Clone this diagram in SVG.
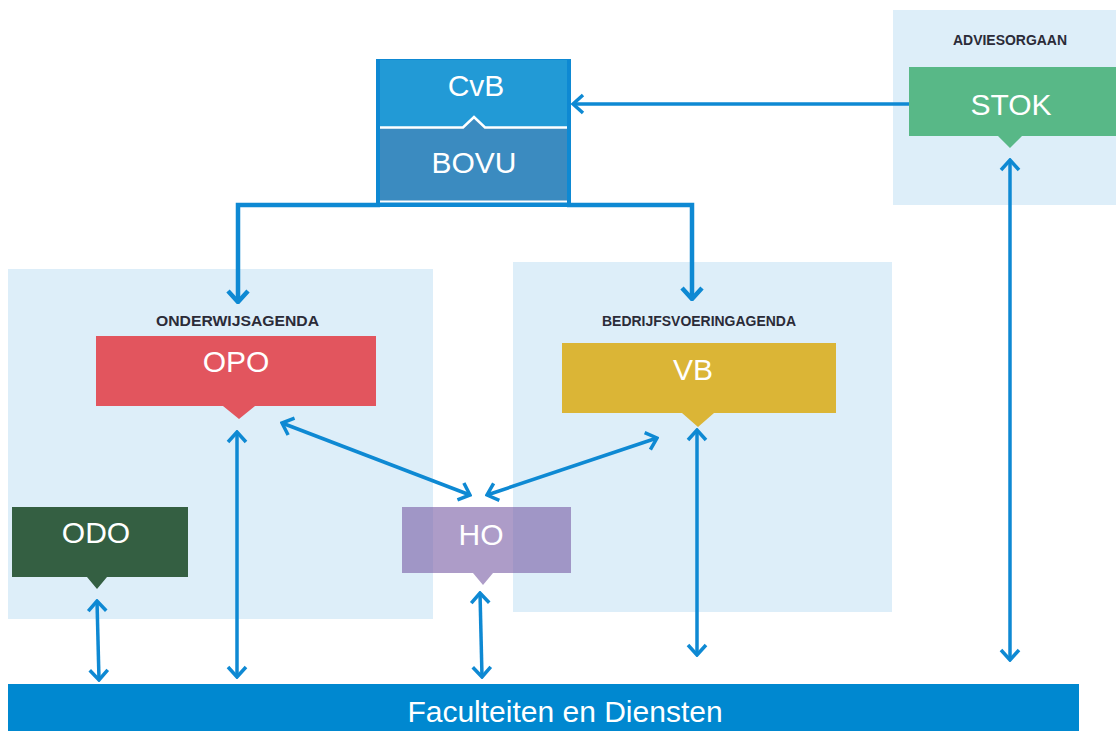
<svg xmlns="http://www.w3.org/2000/svg" width="1116" height="731" viewBox="0 0 1116 731">
  <style>
    .panel { fill: #DDEEF9; }
    .title { font-family: "Liberation Sans", Arial, sans-serif; font-weight: bold; font-size: 14.5px; fill: #2B2B38; text-anchor: middle; }
    .lbl { font-family: "Liberation Sans", Arial, sans-serif; font-size: 30px; fill: #FFFFFF; text-anchor: middle; }
    .conn { fill: none; stroke: #0E89D3; stroke-width: 3.5; }
    .thick { stroke-width: 4.5; }
  </style>
  <defs>
    <marker id="ah" markerUnits="userSpaceOnUse" viewBox="-15 -13 17 26" refX="0" refY="0" markerWidth="17" markerHeight="26" orient="auto-start-reverse">
      <path d="M-10,-9 L0,0 L-10,9" fill="none" stroke="#0E89D3" stroke-width="3.5"/>
    </marker>
    <marker id="ahb" markerUnits="userSpaceOnUse" viewBox="-15 -14 17 28" refX="0" refY="0" markerWidth="17" markerHeight="28" orient="auto-start-reverse">
      <path d="M-11,-10 L0,0 L-11,10" fill="none" stroke="#0E89D3" stroke-width="4.5"/>
    </marker>
  </defs>

  <rect width="1116" height="731" fill="#FFFFFF"/>

  <!-- panels -->
  <g id="panel-advies">
    <rect class="panel" x="893" y="10" width="223" height="195"/>
    <text class="title" x="1010" y="45" textLength="114" lengthAdjust="spacingAndGlyphs">ADVIESORGAAN</text>
  </g>
  <g id="panel-onderwijs">
    <rect class="panel" x="8" y="269" width="425" height="350"/>
    <text class="title" x="237.5" y="326" textLength="163" lengthAdjust="spacingAndGlyphs">ONDERWIJSAGENDA</text>
  </g>
  <g id="panel-bedrijf">
    <rect class="panel" x="513" y="262" width="379" height="350"/>
    <text class="title" x="699" y="326" textLength="194" lengthAdjust="spacingAndGlyphs">BEDRIJFSVOERINGAGENDA</text>
  </g>

  <!-- connectors -->
  <g id="connectors">
    <path class="conn thick" d="M380,205 H238 V302" marker-end="url(#ahb)"/>
    <path class="conn thick" d="M567,205 H692 V299" marker-end="url(#ahb)"/>
    <path class="conn" d="M909,104 H573" marker-end="url(#ah)"/>
    <path class="conn" d="M1010,160 V660" marker-start="url(#ah)" marker-end="url(#ah)"/>
    <path class="conn" d="M697,430 V655" marker-start="url(#ah)" marker-end="url(#ah)"/>
    <path class="conn" d="M237,432 V677" marker-start="url(#ah)" marker-end="url(#ah)"/>
    <path class="conn" d="M97,601 L99,680" marker-start="url(#ah)" marker-end="url(#ah)"/>
    <path class="conn" d="M480,593 L482,677" marker-start="url(#ah)" marker-end="url(#ah)"/>
    <path class="conn" d="M282,423 L470,495" marker-start="url(#ah)" marker-end="url(#ah)"/>
    <path class="conn" d="M487,495 L657,438" marker-start="url(#ah)" marker-end="url(#ah)"/>
  </g>

  <!-- CvB / BOVU -->
  <g id="node-cvb-bovu">
    <rect x="376" y="59" width="195" height="148" fill="#0E89D3"/>
    <rect x="380" y="60" width="187" height="68" fill="#229AD6"/>
    <path d="M380,128 H463 L474,118 L485,128 H567 V201 H380 Z" fill="#3B8BC0"/>
    <path d="M380,127.5 H463 L474,117 L485,127.5 H567" fill="none" stroke="#FFFFFF" stroke-width="2.5"/>
    <line x1="380" y1="201.5" x2="567" y2="201.5" stroke="#FFFFFF" stroke-width="2"/>
    <text class="lbl" x="476" y="96">CvB</text>
    <text class="lbl" x="474" y="173">BOVU</text>
  </g>

  <g id="node-stok">
    <path d="M909,67 H1116 V136 H1022 L1010,148 L998,136 H909 Z" fill="#58B887"/>
    <text class="lbl" x="1011" y="115">STOK</text>
  </g>

  <g id="node-opo">
    <path d="M96,336 H376 V406 H255 L239,419 L223,406 H96 Z" fill="#E2555E"/>
    <text class="lbl" x="236" y="372">OPO</text>
  </g>

  <g id="node-vb">
    <path d="M562,343 H836 V413 H714 L698,427 L682,413 H562 Z" fill="#DBB536"/>
    <text class="lbl" x="693" y="380">VB</text>
  </g>

  <g id="node-odo">
    <path d="M12,507 H188 V577 H107 L97,589 L87,577 H12 Z" fill="#345F42"/>
    <text class="lbl" x="96" y="543">ODO</text>
  </g>

  <g id="node-ho">
    <path d="M402,507 H571 V573 H493 L483,585 L473,573 H402 Z" fill="#7A5FA6" fill-opacity="0.62"/>
    <text class="lbl" x="481" y="545">HO</text>
  </g>

  <g id="node-faculteiten">
    <rect x="8" y="684" width="1071" height="47" fill="#0088D0"/>
    <text class="lbl" x="565" y="722">Faculteiten en Diensten</text>
  </g>
</svg>
